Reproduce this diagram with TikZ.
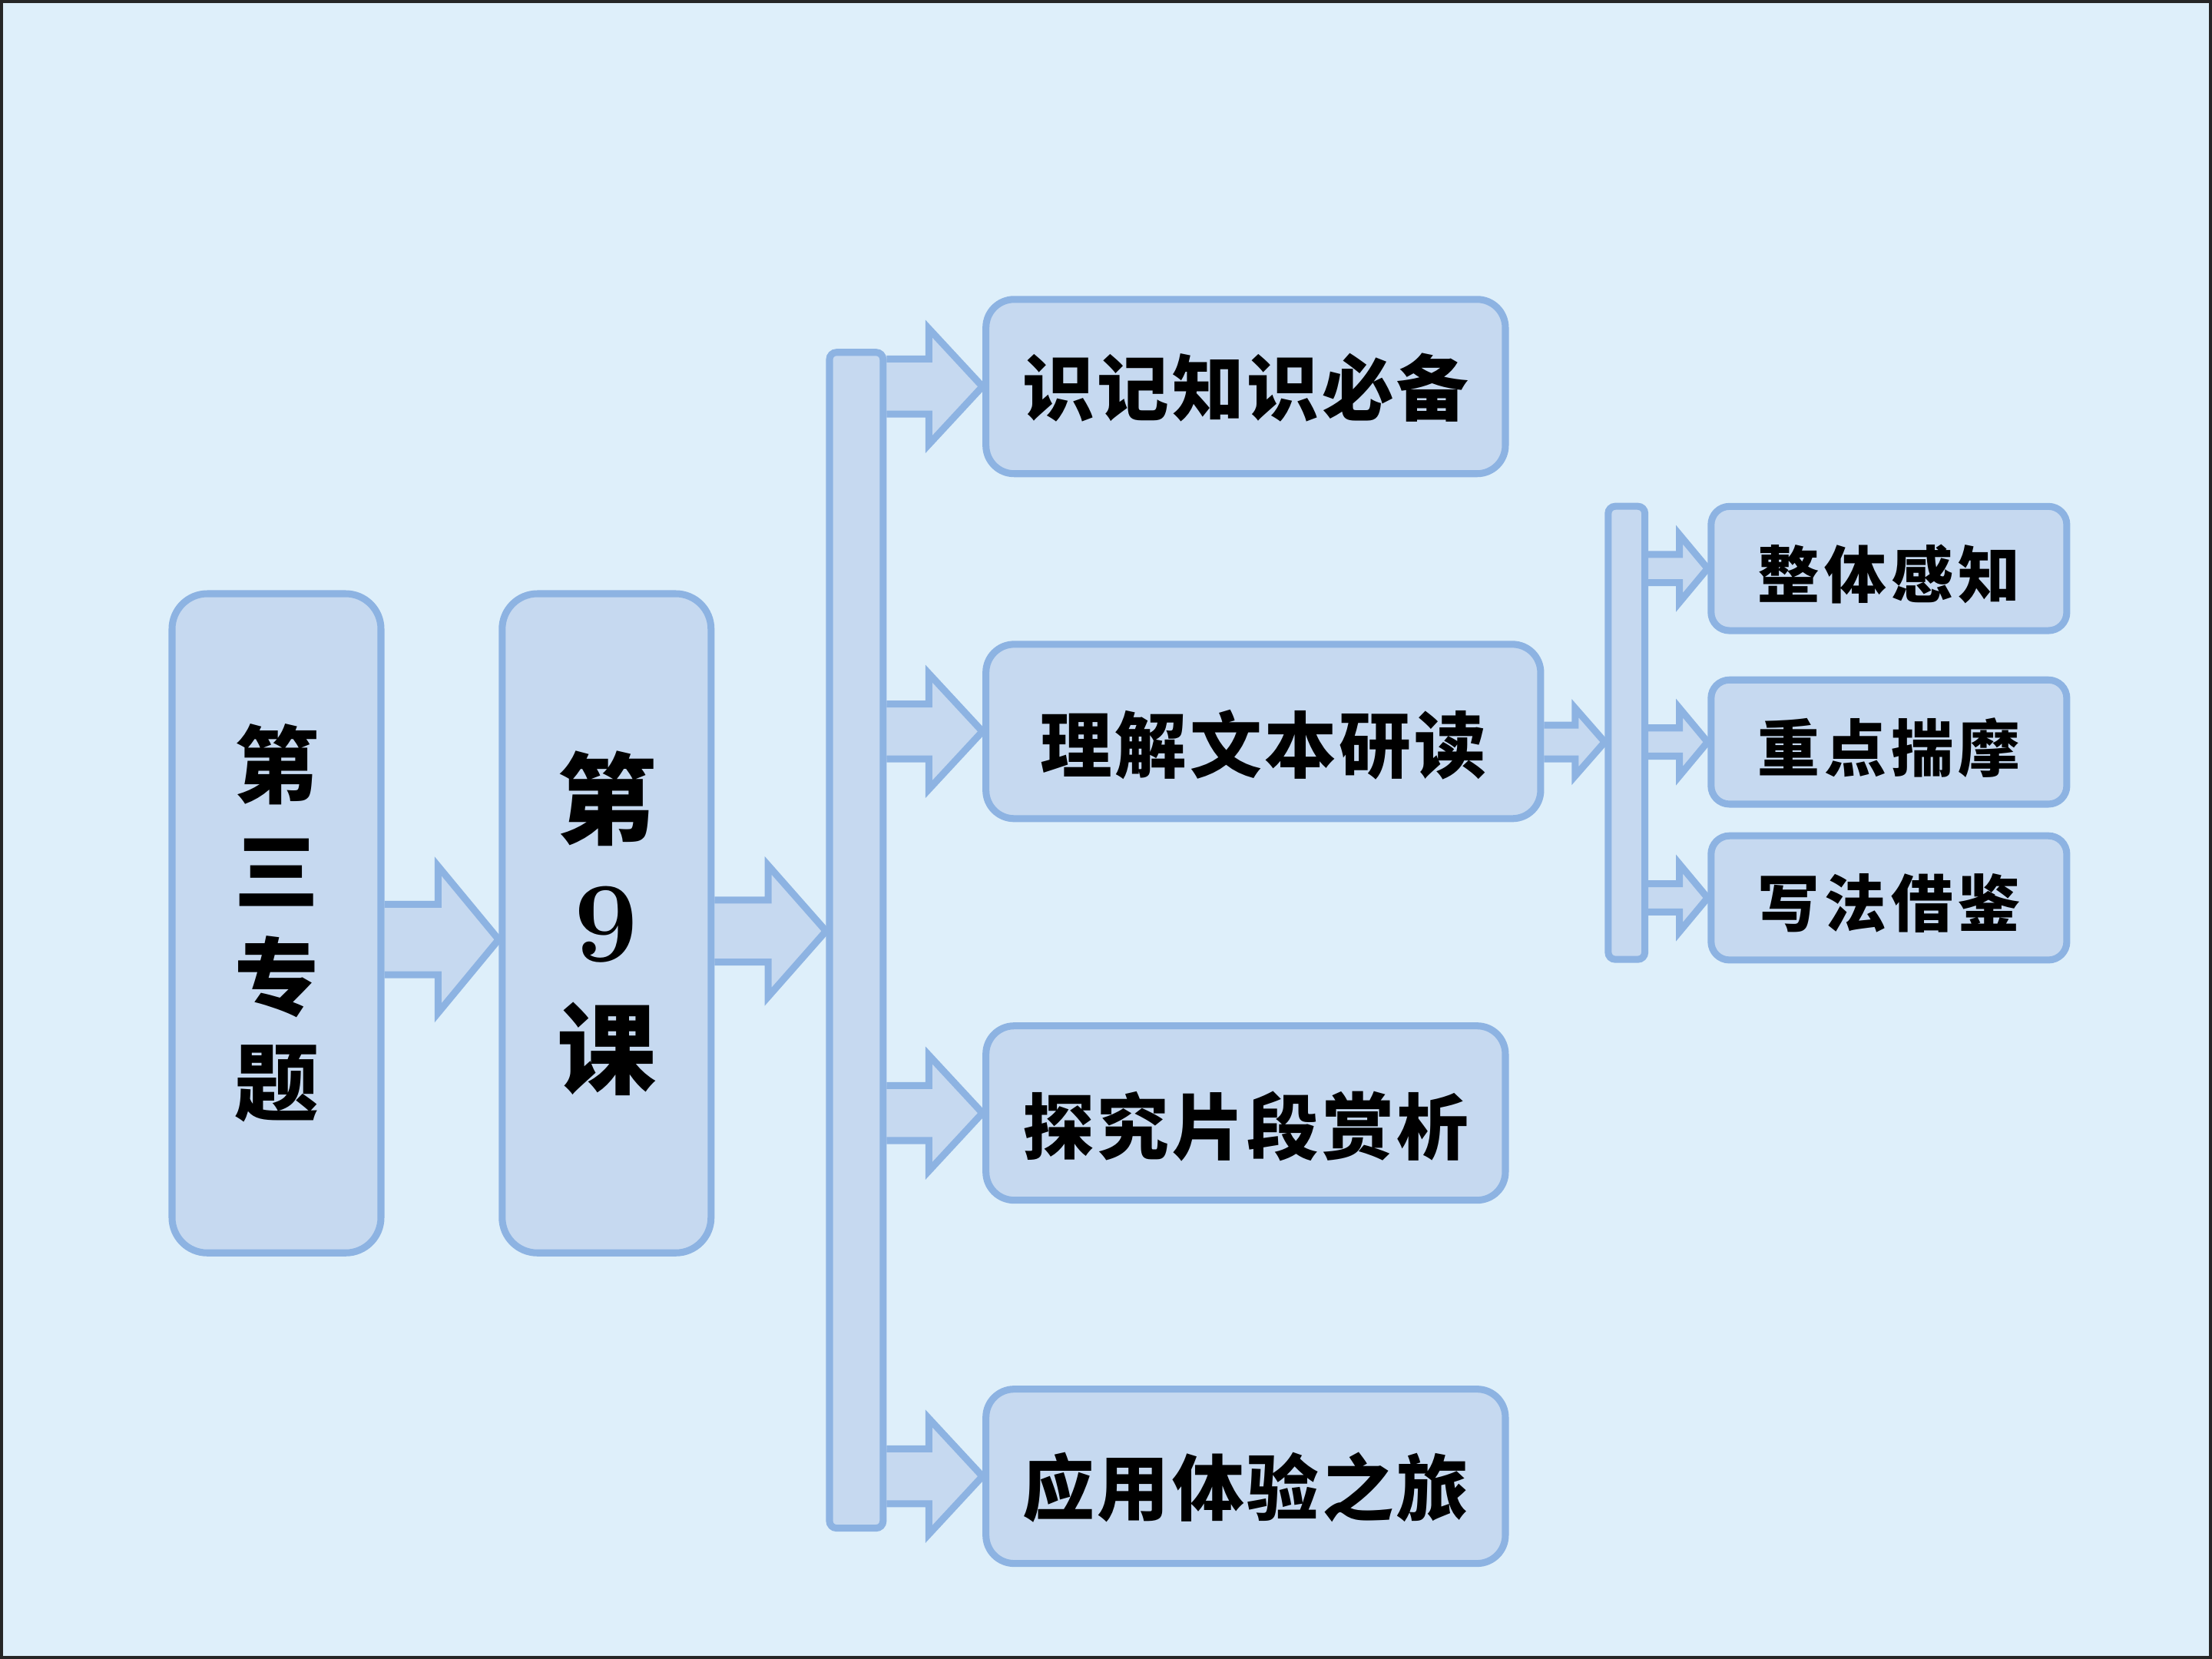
\documentclass[tikz,border=0pt]{standalone}
\usepackage{fontspec}
\newfontfamily\cjk{Noto Sans CJK SC}
\usetikzlibrary{calc}
\definecolor{bgc}{HTML}{DEEFFA}
\definecolor{boxfill}{HTML}{C6D9F0}
\definecolor{boxline}{HTML}{8DB3E2}
\pgfdeclarelayer{back}
\pgfdeclarelayer{mid}
\pgfsetlayers{back,mid,main}
\tikzset{
  shapebox/.style={draw=boxline, fill=boxfill, line width=1.4pt, inner sep=0pt, rectangle},
  bigbox/.style={shapebox, rounded corners=0.25cm, minimum width=1.48cm, minimum height=4.67cm},
  midbox/.style={shapebox, rounded corners=0.2cm, minimum height=1.235cm},
  midtext/.style={inner sep=0pt, font=\cjk\bfseries\fontsize{14.5pt}{16pt}\selectfont\addfontfeatures{LetterSpace=4}},
  smallbox/.style={shapebox, rounded corners=0.13cm, minimum width=2.52cm, minimum height=0.88cm},
  smalltext/.style={inner sep=0pt, font=\cjk\bfseries\fontsize{12.5pt}{14pt}\selectfont\addfontfeatures{LetterSpace=8}},
  barbox/.style={shapebox, rounded corners=0.05cm},
  blockarrow/.style={draw=boxline, fill=boxfill, line width=1.4pt, line join=miter},
}
% #1 from anchor, #2 to anchor, #3 y centre, #4 shaft half height, #5 head half height, #6 head length
\newcommand{\blockarrow}[6]{%
  \begin{pgfonlayer}{mid}
  \coordinate (s) at (#1 |- 0,#3);
  \coordinate (t) at (#2 |- 0,#3);
  \filldraw[blockarrow] ($(s)+(0,-#4)$) -- ($(t)+(-#6,-#4)$) -- ($(t)+(-#6,-#5)$) -- (t)
     -- ($(t)+(-#6,#5)$) -- ($(t)+(-#6,#4)$) -- ($(s)+(0,#4)$);
  \end{pgfonlayer}}
\begin{document}
\begin{tikzpicture}[x=0.01cm, y=-0.01cm]
\useasboundingbox (0,0) rectangle (1568,1176);
\begin{pgfonlayer}{back}
\draw[fill=bgc, draw=black!85, line width=0.8pt] (1,1) rectangle (1567,1175);
\end{pgfonlayer}

\node[bigbox, align=center, font=\cjk\bfseries\fontsize{17pt}{21.3pt}\selectfont] (b1) at (196,654.5) {第\\三\\专\\题};
\node[bigbox, align=center, font=\cjk\bfseries\fontsize{20pt}{25.2pt}\selectfont] (b2) at (430,654.5) {第\\{\rmfamily\bfseries\fontsize{23pt}{25.2pt}\selectfont 9}\\课};
\node[barbox, minimum width=0.38cm, minimum height=8.33cm] (bar1) at (607,666.5) {};

\node[midbox, minimum width=3.68cm] (r1) at (883,274) {};
\node[midbox, minimum width=3.93cm] (r2) at (895.5,518.5) {};
\node[midbox, minimum width=3.68cm] (r3) at (883,789) {};
\node[midbox, minimum width=3.68cm] (r4) at (883,1046.5) {};
\node[midtext] (r1t) at ([yshift=-0.01cm]r1.center) {识记知识必备};
\node[midtext] (r2t) at ([yshift=-0.095cm]r2.center) {理解文本研读};
\node[midtext] (r3t) at ([yshift=-0.095cm]r3.center) {探究片段赏析};
\node[midtext] (r4t) at ([yshift=-0.08cm]r4.center) {应用体验之旅};

\node[barbox, minimum width=0.26cm, minimum height=3.21cm] (bar2) at (1153,519.5) {};

\node[smallbox] (s1) at (1339,403) {};
\node[smallbox] (s2) at (1339,526) {};
\node[smallbox] (s3) at (1339,636.5) {};
\node[smalltext] (s1t) at ([yshift=-0.04cm]s1.center) {整体感知};
\node[smalltext] (s2t) at ([yshift=-0.04cm]s2.center) {重点揣摩};
\node[smalltext] (s3t) at ([yshift=-0.04cm]s3.center) {写法借鉴};

\blockarrow{b1.east}{b2.west}{666}{25}{52}{43}
\blockarrow{b2.east}{bar1.west}{660}{22}{46.5}{41}
\blockarrow{bar1.east}{r1.west}{274}{19.5}{41}{38}
\blockarrow{bar1.east}{r2.west}{518.5}{19.5}{41}{38}
\blockarrow{bar1.east}{r3.west}{789}{19.5}{41}{38}
\blockarrow{bar1.east}{r4.west}{1046.5}{19.5}{41}{38}
\blockarrow{r2.east}{bar2.west}{526}{12}{24}{21}
\blockarrow{bar2.east}{s1.west}{403}{10}{24}{20}
\blockarrow{bar2.east}{s2.west}{526}{10}{24}{20}
\blockarrow{bar2.east}{s3.west}{636.5}{10}{24}{20}
\end{tikzpicture}
\end{document}
